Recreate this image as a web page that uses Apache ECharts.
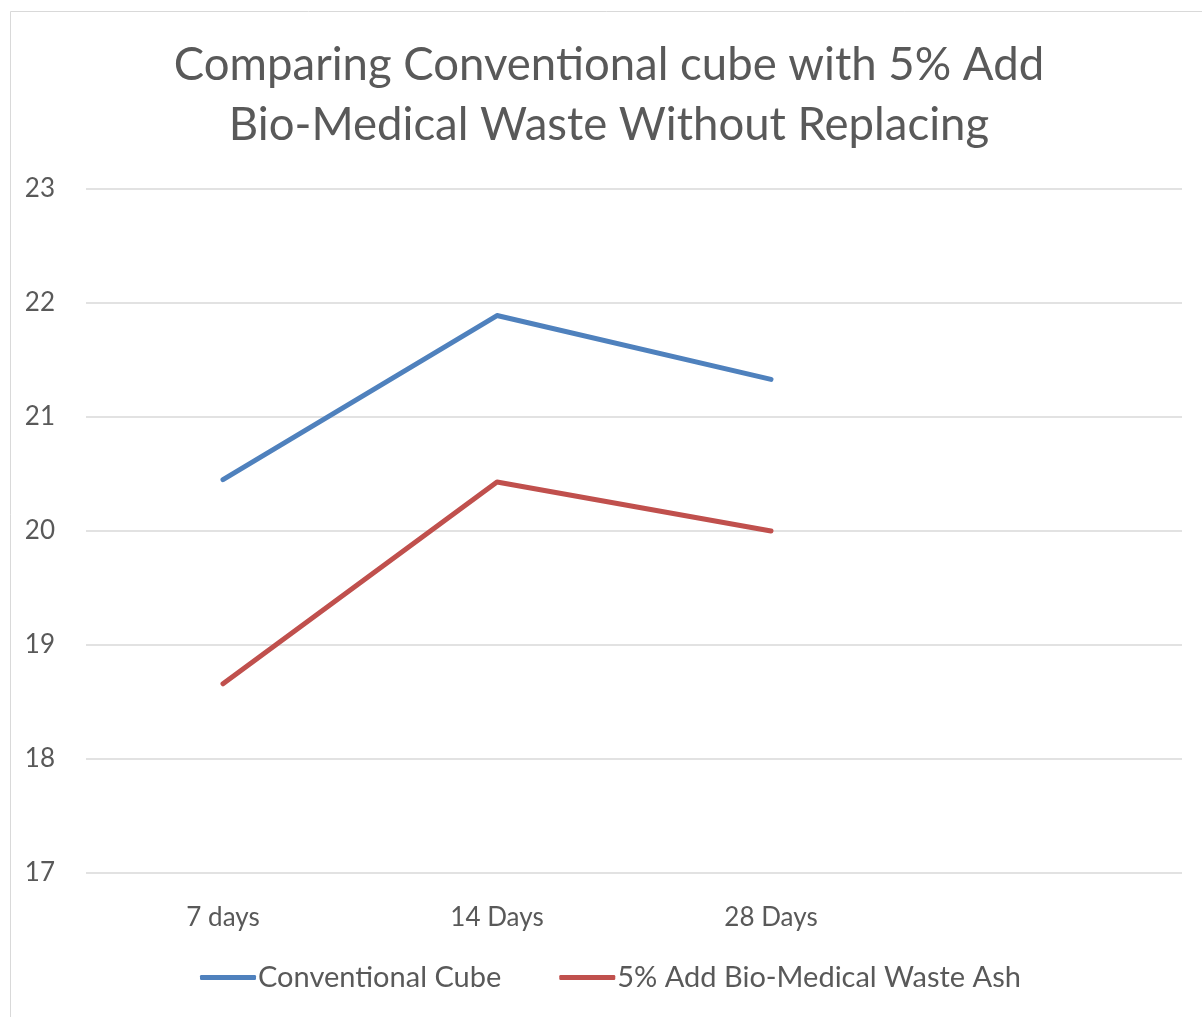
<!DOCTYPE html>
<html>
<head>
<meta charset="utf-8">
<script src="https://cdn.jsdelivr.net/npm/echarts@6/dist/echarts.min.js"></script>
<style>html,body{margin:0;padding:0;background:#fff;}#c{width:1202px;height:1017px;}</style>
</head>
<body>
<div id="c"></div>
<script>
const categories = ['7 days', '14 Days', '28 Days', ''];
const conventionalCube = [20.45, 21.89, 21.33, null];
const bioMedicalAsh = [18.66, 20.43, 20.0, null];
const seriesNames = ['Conventional Cube', '5% Add Bio-Medical Waste Ash'];
const titleText = 'Comparing Conventional cube with 5% Add\nBio-Medical Waste Without Replacing';

const FONT = 'Lato, "Open Sans", sans-serif';
const chart = echarts.init(document.getElementById('c'));
chart.setOption({
  animation: false,
  backgroundColor: '#fff',
  graphic: [{
    type: 'rect', silent: true, z: -10,
    shape: { x: 10.5, y: 11.5, width: 1400, height: 1200 },
    style: { fill: 'none', stroke: '#D9D9D9', lineWidth: 1 }
  }],
  title: {
    text: titleText,
    left: 604, top: 30, textAlign: 'center',
    textStyle: { fontFamily: FONT, fontSize: 45.5, fontWeight: 'normal', color: '#595959', lineHeight: 60 }
  },
  legend: {
    bottom: 20, left: 195,
    itemWidth: 56, itemHeight: 5, itemGap: 58,
    icon: 'roundRect',
    textStyle: { fontFamily: FONT, fontSize: 29, color: '#595959', padding: [0,0,0,-3] },
    data: seriesNames
  },
  grid: { left: 86, right: 20, top: 189, bottom: 144 },
  xAxis: {
    type: 'category', data: categories, boundaryGap: true,
    axisLine: { show: false }, axisTick: { show: false },
    axisLabel: { fontFamily: FONT, fontSize: 26, color: '#595959', margin: 32 }
  },
  yAxis: {
    type: 'value', min: 17, max: 23, interval: 1,
    axisLine: { show: false }, axisTick: { show: false },
    axisLabel: { fontFamily: FONT, fontSize: 26, color: '#595959', margin: 31 },
    splitLine: { lineStyle: { color: '#D9D9D9', width: 1.5 } }
  },
  series: [
    { name: seriesNames[0], type: 'line', data: conventionalCube, symbol: 'none',
      lineStyle: { color: '#4F81BD', width: 5, cap: 'round', join: 'round' }, itemStyle: { color: '#4F81BD' } },
    { name: seriesNames[1], type: 'line', data: bioMedicalAsh, symbol: 'none',
      lineStyle: { color: '#C0504D', width: 5, cap: 'round', join: 'round' }, itemStyle: { color: '#C0504D' } }
  ]
});
</script>
</body>
</html>
